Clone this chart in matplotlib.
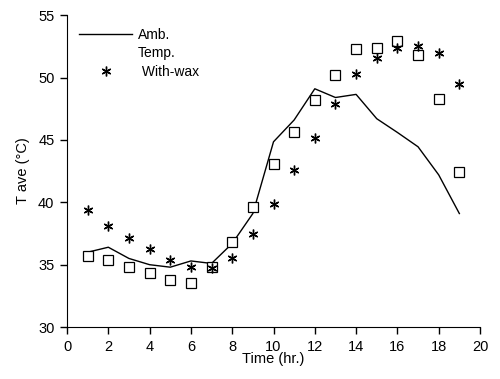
import numpy as np
import matplotlib.pyplot as plt
from matplotlib.lines import Line2D

plt.rcParams['font.family'] = ['Liberation Sans', 'DejaVu Sans']

hours = [1, 2, 3, 4, 5, 6, 7, 8, 9, 10, 11, 12, 13, 14, 15, 16, 17, 18, 19]
amb_temp = [36.0, 36.4, 35.5, 35.0, 34.8, 35.3, 35.1, 36.7, 39.1, 44.85, 46.6,
            49.1, 48.4, 48.65, 46.7, 45.6, 44.45, 42.2, 39.1]
no_wax = [35.7, 35.4, 34.8, 34.35, 33.8, 33.5, 34.8, 36.8, 39.6, 43.1, 45.6,
          48.2, 50.2, 52.25, 52.35, 52.95, 51.8, 48.3, 42.45]
with_wax = [39.4, 38.1, 37.15, 36.25, 35.35, 34.8, 34.7, 35.55, 37.5, 39.85, 42.6,
            45.15, 47.9, 50.25, 51.6, 52.4, 52.55, 52.0, 49.5]

fig = plt.figure(figsize=(5, 3.79), dpi=100)
ax = fig.add_axes([0.134, 0.137, 0.826, 0.823])

line, = ax.plot(hours, amb_temp, color='black', lw=1.0)
ax.plot(hours, no_wax, ls='none', marker='s', ms=7.5, mfc='white', mec='black', mew=0.9)
star, = ax.plot(hours, with_wax, ls='none', marker=(6, 2, 0), ms=7, mec='black', mew=1.0)

blank = Line2D([], [], ls='none')
ax.legend(handles=[line, blank, star], labels=['Amb.', 'Temp.', ' With-wax'],
          loc='upper left', bbox_to_anchor=(0.01, 0.985),
          frameon=False, fontsize=10, handlelength=3.8, handletextpad=0.4,
          labelspacing=0.3, borderaxespad=0.2)

ax.set_xlim(0, 20)
ax.set_ylim(30, 55)
ax.set_xticks(np.arange(0, 21, 2))
ax.set_yticks(np.arange(30, 56, 5))
for s in ['top', 'right']:
    ax.spines[s].set_visible(False)
ax.tick_params(direction='out', length=5, width=1, labelsize=10.5, pad=4)
ax.set_xlabel('Time (hr.)', fontsize=10.5, labelpad=-1)
ax.set_ylabel('T ave (°C)', fontsize=10.5, labelpad=6)

fig.savefig('out.png', dpi=100)
